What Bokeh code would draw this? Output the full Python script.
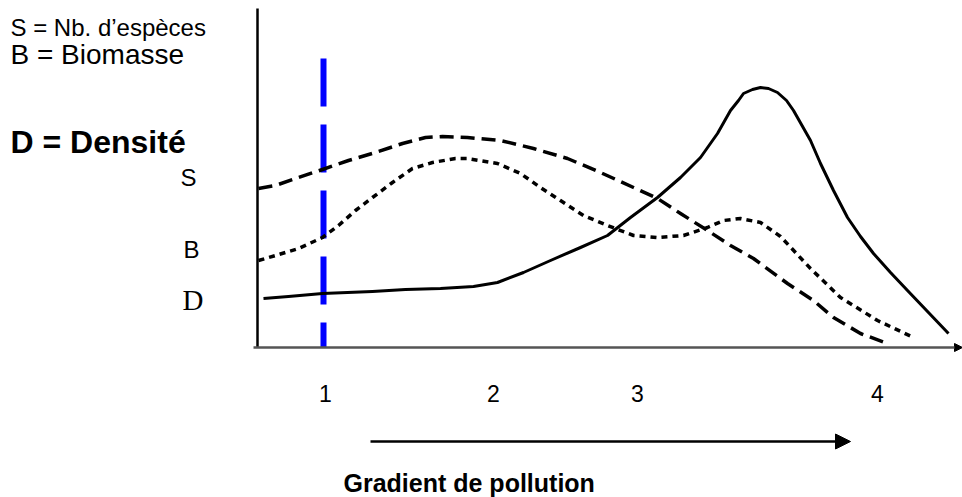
from bokeh.plotting import figure
from bokeh.models import Range1d, Arrow, NormalHead
from bokeh.core.properties import value
from bokeh.embed import file_html
from bokeh.resources import INLINE

# ---- data (gradient position, relative level) ----
S_x = [0.1, 1.8, 3.8, 6.5, 9.1, 11.8, 14.5, 16.8, 18.5, 21.0, 24.3, 27.6, 31.0, 34.3,
       37.6, 40.0, 42.3, 45.0, 47.3, 49.6, 53.0, 55.6, 57.6, 60.3, 63.0]
S_y = [15.9, 16.2, 16.9, 17.8, 18.7, 19.5, 20.4, 21.0, 21.1, 21.0, 20.7, 19.9, 18.9, 17.5,
       16.0, 14.9, 13.4, 11.7, 10.2, 8.9, 6.4, 4.7, 3.0, 1.4, 0.4]

B_x = [0.1, 1.8, 4.1, 6.5, 8.1, 9.8, 11.5, 13.5, 15.5, 17.5, 19.8, 21.0, 24.0, 26.3, 28.3,
       30.3, 32.6, 35.0, 37.6, 40.0, 42.6, 45.0, 46.6, 48.3, 50.3, 52.3, 53.8, 55.3, 58.3,
       62.0, 65.6]
B_y = [8.7, 9.2, 9.9, 11.0, 12.2, 13.7, 15.0, 16.5, 17.9, 18.5, 18.9, 18.9, 18.4, 17.4, 16.0,
       14.7, 13.2, 12.2, 11.2, 11.0, 11.2, 12.0, 12.7, 12.9, 12.5, 11.1, 9.5, 7.9, 5.0,
       2.7, 1.0]

D_x = [0.6, 3.1, 6.5, 11.5, 14.8, 18.3, 21.6, 24.0, 26.6, 29.3, 32.3, 35.0, 37.3, 40.0,
       42.3, 44.3, 46.0, 47.3, 48.1, 48.6, 49.5, 50.3, 51.1, 52.0, 52.9, 53.6, 55.3, 56.3,
       57.6, 59.0, 60.3, 61.6, 63.3, 65.0, 69.1]
D_y = [4.9, 5.1, 5.4, 5.6, 5.8, 5.9, 6.1, 6.5, 7.5, 8.7, 10.0, 11.2, 13.0, 15.0,
       17.0, 19.0, 21.4, 23.7, 24.7, 25.4, 25.8, 26.0, 25.9, 25.5, 24.7, 23.7, 20.7, 18.4,
       15.7, 13.0, 11.1, 9.4, 7.5, 5.7, 1.4]

tick_labels = ["1", "2", "3", "4"]
tick_pos = [6.8, 23.6, 38.0, 62.0]

marker_x = 6.6          # blue reference line position
marker_top = 28.9

legend_lines = ["S = Nb. d\u2019esp\u00e8ces", "B = Biomasse", "D = Densit\u00e9"]
curve_letters = ["S", "B", "D"]
x_title = "Gradient de pollution"

x_axis_end = 70.5
y_axis_top = 33.9

p = figure(width=962, height=497, x_range=Range1d(-25.7, 70.5), y_range=Range1d(-15.0, 34.7),
           output_backend="svg", toolbar_location=None, x_axis_type=None, y_axis_type=None,
           min_border=0, outline_line_color=None)
p.grid.visible = False
p.background_fill_color = "white"
p.border_fill_color = "white"

# axes
p.segment(x0=[0], y0=[0], x1=[0], y1=[y_axis_top], line_color="black", line_width=2.5)
p.add_layout(Arrow(end=NormalHead(size=8, fill_color="black", line_color="black", line_width=1),
                   x_start=-0.4, y_start=0, x_end=x_axis_end, y_end=0,
                   line_color="#555555", line_width=2.5))

# blue marker
p.segment(x0=[marker_x], y0=[marker_top], x1=[marker_x], y1=[0], line_color="#0000FF",
          line_width=6, line_dash="48 18")

# curves
p.line(S_x, S_y, line_color="black", line_width=3.5, line_dash="14 7", line_join="round")
p.line(B_x, B_y, line_color="black", line_width=3.5, line_dash="6 5", line_join="round")
p.line(D_x, D_y, line_color="black", line_width=3, line_join="round")

# tick labels
p.text(x=tick_pos, y=[-4.6] * 4, text=tick_labels, text_font=value("Liberation Sans"),
       text_font_size="23px", text_align="center", text_baseline="alphabetic", text_color="black")

# gradient arrow
p.add_layout(Arrow(end=NormalHead(size=15, fill_color="black", line_color="black", line_width=1),
                   x_start=11.3, y_start=-9.4, x_end=59.3, y_end=-9.4,
                   line_color="black", line_width=2.5))
p.text(x=[8.6], y=[-13.5], text=[x_title], text_font=value("Liberation Sans"),
       text_font_size="25px", text_font_style="bold", text_align="left",
       text_baseline="alphabetic", text_color="black")

# legend lines
p.text(x=[-24.7], y=[32.0], text=[legend_lines[0]], text_font=value("Liberation Sans"),
       text_font_size="24px", text_baseline="alphabetic", text_color="black")
p.text(x=[-24.7], y=[29.3], text=[legend_lines[1]], text_font=value("Liberation Sans"),
       text_font_size="28px", text_baseline="alphabetic", text_color="black")
p.text(x=[-24.7], y=[20.6], text=[legend_lines[2]], text_font=value("Liberation Sans"),
       text_font_size="32px", text_font_style="bold", text_baseline="alphabetic", text_color="black")

# curve letters
p.text(x=[-7.7, -7.4], y=[17.0, 9.8], text=curve_letters[:2], text_font=value("Liberation Sans"),
       text_font_size="24px", text_baseline="alphabetic", text_color="black")
p.text(x=[-7.5], y=[4.8], text=curve_letters[2:], text_font=value("Liberation Serif"),
       text_font_size="29px", text_baseline="alphabetic", text_color="black")

open("out.html", "w").write(file_html(p, INLINE))
